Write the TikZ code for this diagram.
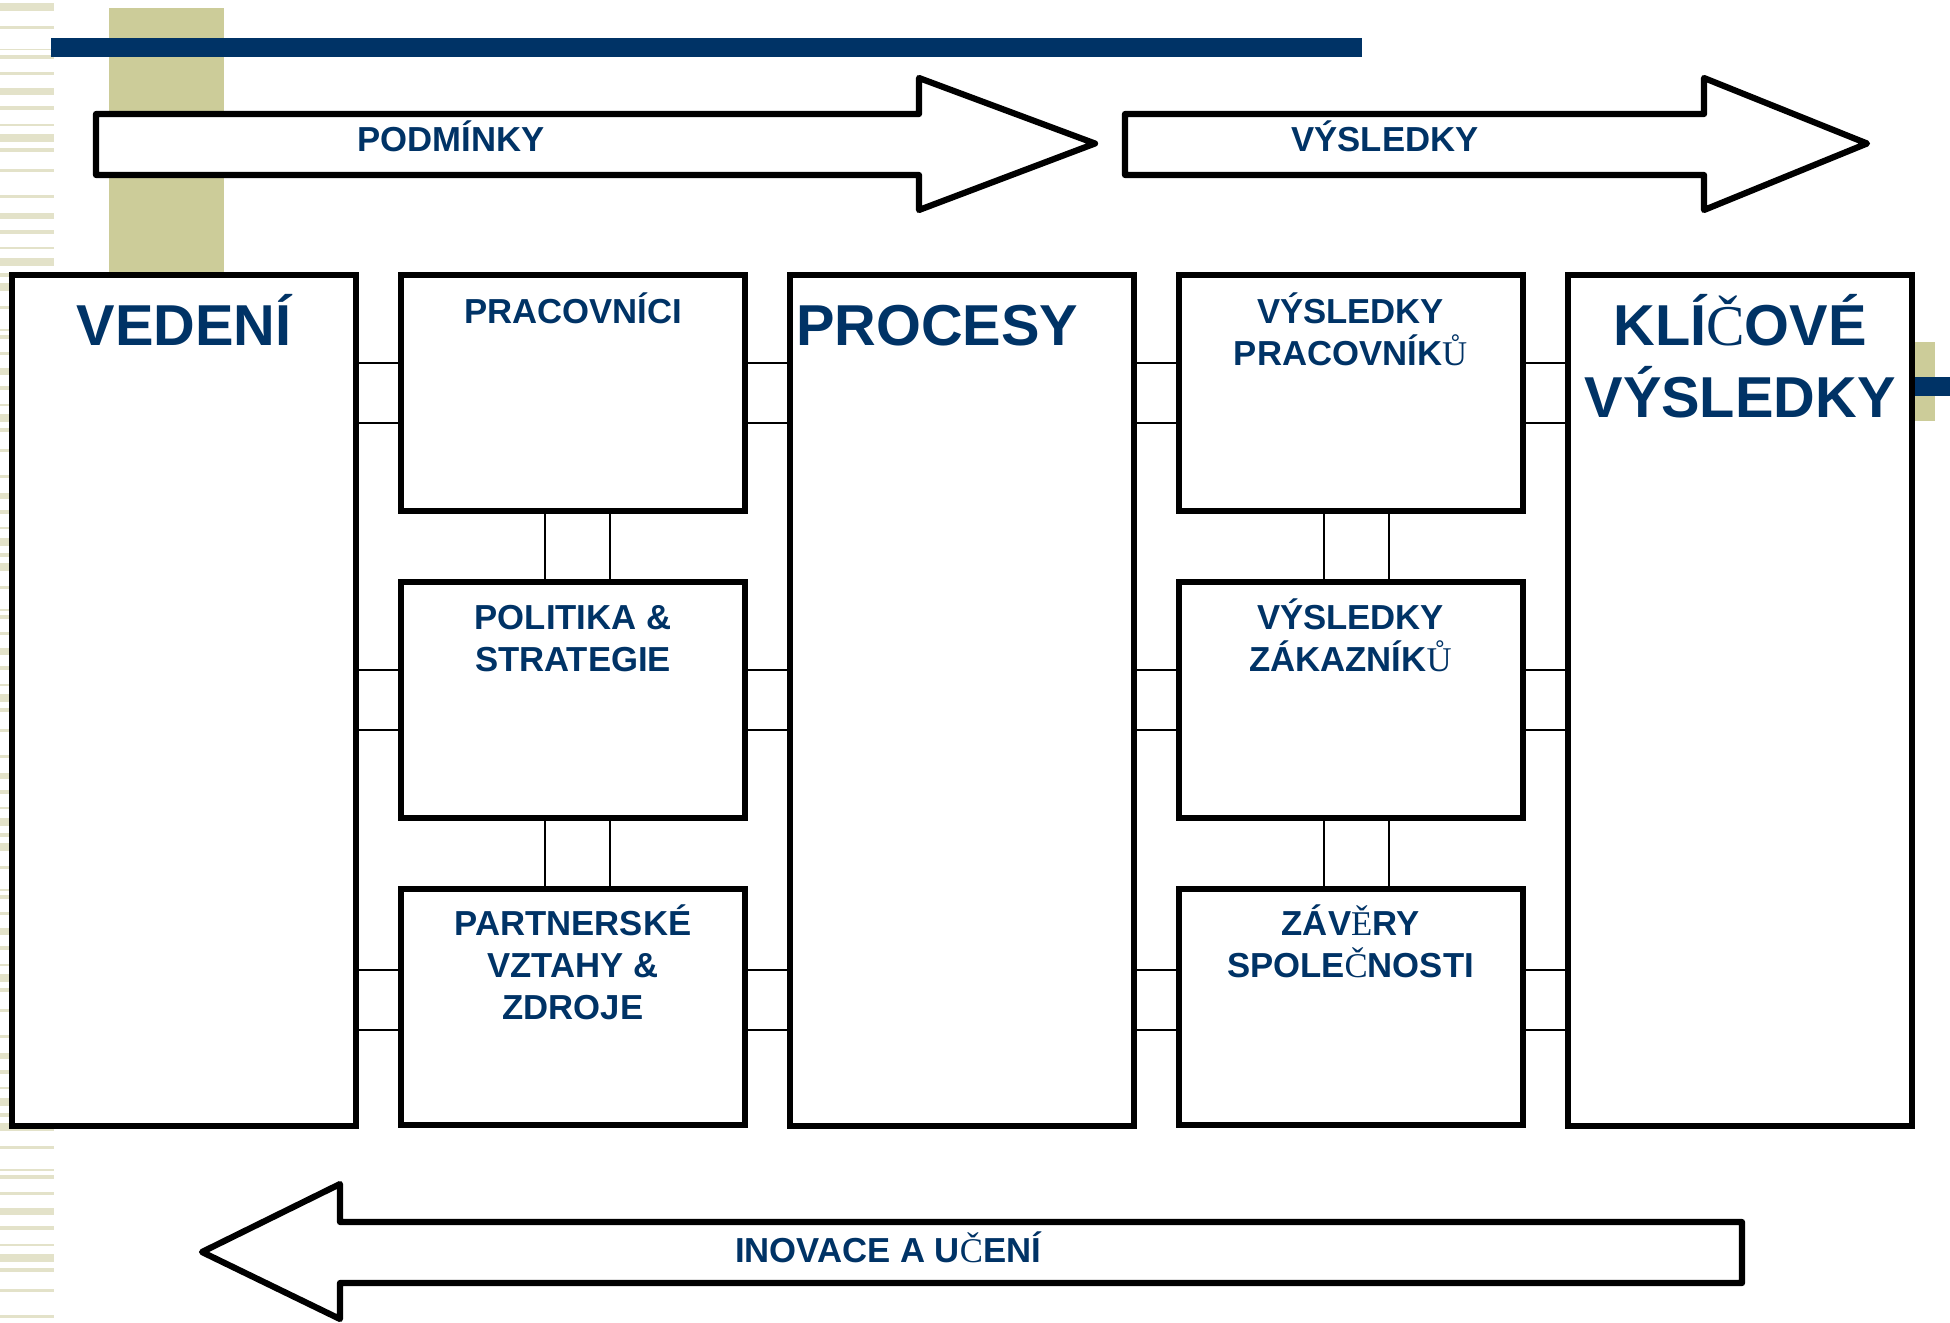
\documentclass[tikz,border=0pt]{standalone}
\usepackage{fontspec}
\setmainfont{Liberation Sans}
\newfontfamily\accentserif{Liberation Serif}
% letters with carons/rings are set in a serif face
\newcommand\glC{{\accentserif\mdseries Č}}
\newcommand\glU{{\accentserif\mdseries Ů}}
\newcommand\glE{{\accentserif\mdseries Ě}}
\definecolor{navy}{HTML}{003366}
\definecolor{olive}{HTML}{CCCC99}
\definecolor{stripe}{HTML}{E3E2C9}

\begin{document}
\begin{tikzpicture}[x=1pt,y=-1pt,
  block/.style={draw=black,line width=6pt,fill=white,inner sep=0pt,outer sep=0pt,minimum width=344pt},
  tallblock/.style={block,minimum height=851pt},
  cell/.style={block,minimum height=236pt},
  link/.style={draw=black,line width=1.4pt},
  flow/.style={draw=black,line width=6.2pt,fill=white,line join=round},
  small/.style={text=navy,font=\fontsize{34.7}{42}\selectfont\bfseries,align=center,anchor=base,inner sep=0pt},
  large/.style={text=navy,font=\fontsize{57.7}{72}\selectfont\bfseries,align=center,anchor=base,inner sep=0pt}]

\useasboundingbox (0,0) rectangle (1950,1322);

% striped margin on the left
\foreach \p in {0,280,560,840,1120}{
  \foreach \y/\h in {3/8,26/3,49/1.5,55/4,72/3,88/7,106/4,124/2,134/8,148/4,169/3,195/3,213/6,230/4,247/2,258/8,273/4}{
    \fill[stripe] (0,\p+\y) rectangle (54,\p+\y+\h);
  }
}

% title decoration
\fill[olive] (109,8) rectangle (224,272);
\fill[navy] (51,38) rectangle (1362,57);
\fill[olive] (1900,342) rectangle (1935,421);
\fill[navy] (1900,377) rectangle (1950,396);

% block arrows
\draw[flow] (96,114) -- (919,114) -- (919,78) -- (1095,143.5) -- (919,210) -- (919,175) -- (96,175) -- cycle;
\node[small] (tpod) at (451,151) {PODMÍNKY};
\draw[flow] (1125,114) -- (1704,114) -- (1704,78) -- (1867,143.5) -- (1704,210) -- (1704,175) -- (1125,175) -- cycle;
\node[small] (tvys) at (1385,151) {VÝSLEDKY};
\draw[flow] (1742,1222) -- (340,1222) -- (340,1184) -- (202,1252) -- (340,1319) -- (340,1283) -- (1742,1283) -- cycle;
\node[small] (tino) at (888,1262) {INOVACE A U\glC ENÍ};

% model blocks
\node[tallblock] (ved) at (184,700.5) {};
\node[cell] (pra) at (573,393) {};
\node[cell] (pol) at (573,699.5) {};
\node[cell] (par) at (573,1007) {};
\node[tallblock] (proc) at (961.5,700.5) {};
\node[cell] (vpr) at (1350.5,393) {};
\node[cell] (vza) at (1350.5,699.5) {};
\node[cell] (zav) at (1350.5,1007) {};
\node[tallblock] (kli) at (1740,700.5) {};

% horizontal links
\foreach \l/\r/\ya/\yb in {ved/pra/363/423, pra/proc/363/423, proc/vpr/363/423, vpr/kli/363/423,
                            ved/pol/670/730, pol/proc/670/730, proc/vza/670/730, vza/kli/670/730,
                            ved/par/970/1030, par/proc/970/1030, proc/zav/970/1030, zav/kli/970/1030}{
  \coordinate (ha) at (0,\ya);
  \coordinate (hb) at (0,\yb);
  \draw[link] (\l.east |- ha) -- (\r.west |- ha) (\l.east |- hb) -- (\r.west |- hb);
}

% vertical links
\foreach \t/\b/\xa/\xb in {pra/pol/545/610, pol/par/545/610, vpr/vza/1324/1389, vza/zav/1324/1389}{
  \coordinate (va) at (\xa,0);
  \coordinate (vb) at (\xb,0);
  \draw[link] (\t.south -| va) -- (\b.north -| va) (\t.south -| vb) -- (\b.north -| vb);
}

% labels (base anchor sits on the last line)
\node[large] (lved) at (184,345) {VEDENÍ};
\node[small] (lpra) at (573,323) {PRACOVNÍCI};
\node[small] (lpol) at (573,671) {POLITIKA \&\\STRATEGIE};
\node[small] (lpar) at (573,1019) {PARTNERSKÉ\\VZTAHY \&\\ZDROJE};
\node[large,anchor=base west] (lproc) at (796,345) {PROCESY};
\node[small] (lvpr) at (1350.5,365) {VÝSLEDKY\\PRACOVNÍK\glU};
\node[small] (lvza) at (1350.5,671) {VÝSLEDKY\\ZÁKAZNÍK\glU};
\node[small] (lzav) at (1350.5,977) {ZÁV\glE RY\\SPOLE\glC NOSTI};
\node[large] (lkli) at (1740,417) {KLÍ\glC OVÉ\\VÝSLEDKY};

\end{tikzpicture}
\end{document}
